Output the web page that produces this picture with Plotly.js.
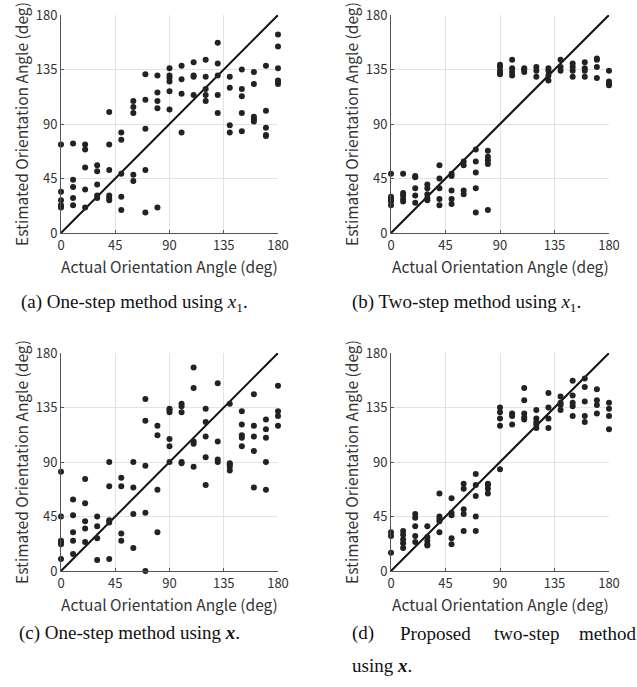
<!DOCTYPE html>
<html>
<head>
<meta charset="utf-8">
<script src="https://cdn.plot.ly/plotly-3.0.1.min.js"></script>
<style>html,body{margin:0;padding:0;background:#fff;}#chart{width:637px;height:687px;}</style>
</head>
<body>
<div id="chart"></div>
<script>
const actualAngles = [0,10,20,30,40,50,60,70,80,90,100,110,120,130,140,150,160,170,180];
const tickVals = [0,45,90,135,180];
const tickText = ['0','45','90','135','180'];

// (a) One-step method using x1
const estA = [
  [73,34,27,23,21],[74,44,38,29,23],[73,69,54,36,21],[56,51,40,31,29],
  [100,73,52,31,29,27],[83,77,49,30,19],[109,104,99,48,43],[131,110,86,52,17],
  [130,116,109,103,21],[136,130,128,125,117,102],[138,127,115,83],[141,130,129,114],
  [143,129,119,114,109],[157,140,130,114,99],[129,120,89,83],[135,119,113,99,84],
  [133,123,96,94,92],[138,101,87,81,80],[164,154,136,126,125,123]
];
// (b) Two-step method using x1
const estB = [
  [49,30,28,26,23],[49,33,31,28,26],[47,46,37,31,25],[40,37,32,29,27],
  [56,45,37,28,23],[49,47,35,28,24],[59,56,35,32],[69,59,50,37,17],
  [68,63,60,57,19],[139,137,134,132,131],[143,136,133,130],[136,135,133],
  [137,134,129],[136,134,130,126],[143,137,134],[140,137,134,129],
  [141,136,134,129],[144,143,137,128],[134,125,123,122]
];
// (c) One-step method using x
const estC = [
  [82,45,25,24,22,10],[59,46,32,25,14],[76,56,41,35,24],[45,37,27,9],
  [90,70,42,40,10],[77,70,31,25],[90,69,47,19],[142,124,87,48,0],
  [120,112,67,32],[134,133,131,109,103,90],[138,136,131,90,89],[168,151,107,105,86],
  [134,123,111,94,71],[155,107,92,90],[138,89,88,86,83],[132,121,112,110,103],
  [146,120,111,99,69],[125,117,110,90,67],[153,132,128,120]
];
// (d) Proposed two-step method using x
const estD = [
  [32,29,15],[33,30,26,23,19],[47,44,37,29,24],[37,28,25,22,21],
  [64,45,43,41,32],[60,48,46,27,22],[72,68,51,47,33],[80,71,62,45,33],
  [72,71,68,64],[135,131,126,120,84],[130,128,121],[151,141,130,127,125],
  [133,126,123,121,118],[147,135,126,118],[144,139,137,133],[157,145,139,136,128],
  [159,152,140,128,123],[150,141,137,130],[139,134,128,117]
];

const captions = {
  a: '(a) One-step method using <i>x</i><sub>1</sub>.',
  b: '(b) Two-step method using <i>x</i><sub>1</sub>.',
  c: '(c) One-step method using <b><i>x</i></b>.',
  d1: ['(d)','Proposed','two-step','method'],
  d2: 'using <b><i>x</i></b>.'
};
const xTitle = 'Actual Orientation Angle (deg)';
const yTitle = 'Estimated Orientation Angle (deg)';

function flatten(est){
  const xs=[], ys=[];
  est.forEach((col,i)=>col.forEach(v=>{xs.push(actualAngles[i]); ys.push(v);}));
  return {xs, ys};
}

const W=637, H=687;
const panels = [
  {est:estA, xa:'x',  ya:'y',  l:61,  r:278, t:15,  b:233},
  {est:estB, xa:'x2', ya:'y2', l:391, r:609, t:15,  b:233},
  {est:estC, xa:'x3', ya:'y3', l:61,  r:278, t:353, b:571},
  {est:estD, xa:'x4', ya:'y4', l:391, r:609, t:353, b:571}
];

const fam = 'Noto Sans CJK JP, Noto Sans, sans-serif';
const axFont = {family:fam, size:13, color:'#333'};
const data=[]; const layout={
  width:W, height:H, margin:{l:0,r:0,t:0,b:0}, showlegend:false,
  paper_bgcolor:'#fff', plot_bgcolor:'#fff', annotations:[]
};

panels.forEach((p,i)=>{
  const f=flatten(p.est);
  data.push({type:'scatter', mode:'lines', x:[0,180], y:[0,180], xaxis:p.xa, yaxis:p.ya,
    line:{color:'#111', width:2}, hoverinfo:'skip', cliponaxis:false});
  data.push({type:'scatter', mode:'markers', x:f.xs, y:f.ys, xaxis:p.xa, yaxis:p.ya,
    marker:{size:6, color:'#222'}, cliponaxis:false});
  const n = i===0?'':String(i+1);
  const common = {range:[0,180], tickvals:tickVals, ticktext:tickText, showgrid:true,
    gridcolor:'#e3e3e3', gridwidth:1, zeroline:false, showline:true, linecolor:'#555', linewidth:1,
    ticks:'inside', ticklen:3, tickcolor:'#555', tickfont:axFont, fixedrange:true, mirror:false};
  layout['xaxis'+n] = Object.assign({}, common, {domain:[p.l/W, p.r/W], anchor:'y'+n});
  layout['yaxis'+n] = Object.assign({}, common, {domain:[1-p.b/H, 1-p.t/H], anchor:'x'+n});
  layout.annotations.push({text:xTitle, xref:'paper', yref:'paper', x:(p.l+p.r)/2/W, y:1-(p.b+33)/H,
    xanchor:'center', yanchor:'middle', showarrow:false, font:{family:fam, size:15.5, color:'#333'}});
  layout.annotations.push({text:yTitle, xref:'paper', yref:'paper', x:(p.l-40)/W, y:1-((p.t+p.b)/2)/H,
    xanchor:'center', yanchor:'middle', textangle:-90, showarrow:false, font:{family:fam, size:15.5, color:'#333'}});
});

const capFont = {family:'Liberation Serif, Times New Roman, serif', size:19, color:'#111'};
function cap(text, xpx, ypx){
  layout.annotations.push({text, xref:'paper', yref:'paper', x:xpx/W, y:1-ypx/H,
    xanchor:'left', yanchor:'middle', showarrow:false, font:capFont});
}
cap(captions.a, 19, 303);
cap(captions.b, 350, 303);
cap(captions.c, 17, 633);
const dx=[350, 398, 492, 577];
captions.d1.forEach((w,k)=>cap(w, dx[k], 633));
cap(captions.d2, 350, 665);

Plotly.newPlot('chart', data, layout, {displayModeBar:false, staticPlot:true});
</script>
</body>
</html>
